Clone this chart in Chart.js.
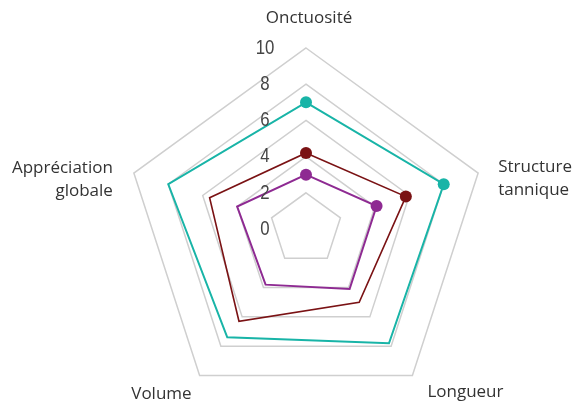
<!DOCTYPE html>
<html>
<head>
<meta charset="utf-8">
<script src="https://cdn.jsdelivr.net/npm/chart.js@4"></script>
<style>
  html, body { margin: 0; padding: 0; background: #fff; }
  #wrap { width: 576px; height: 410px; }
</style>
</head>
<body>
<div id="wrap"><canvas id="radarChart"></canvas></div>
<script>
// ============================== DATA ==============================
const categories = ["Onctuosité", ["Structure", "tannique"], "Longueur", "Volume", ["Appréciation", "globale"]];
const tickValues = [0, 2, 4, 6, 8, 10];
const serieTeal = [7.0, 8.0, 7.8, 7.4, 8.0];
const serieRed = [4.2, 5.8, 5.0, 6.3, 5.6];
const seriePurple = [3.0, 4.1, 4.1, 3.8, 4.0];

// points only drawn on the first two axes
const markerRadius = [6, 6, 0, 0, 0];

// ============================== LABEL PLUGIN ==============================
// position of each axis label relative to the outer vertex of the grid
const labelLayout = [
    { dx: 3, dy: -25, align: "center" },
    { dx: 20, dy: -1, align: "left" },
    { dx: 15, dy: 22, align: "left" },
    { dx: -8, dy: 24, align: "right" },
    { dx: -21, dy: 0, align: "right" }
];

const radarText = {
    id: "radarText",
    afterDraw(chart) {
        const scale = chart.scales.r;
        const ctx = chart.ctx;

        // tick labels, to the left of the vertical axis (narrowed digits)
        const squeeze = 0.8;
        ctx.save();
        ctx.font = "21px 'Liberation Sans', Arial, sans-serif";
        ctx.fillStyle = "#454545";
        ctx.textAlign = "center";
        ctx.textBaseline = "middle";
        ctx.scale(squeeze, 1);
        tickValues.forEach(v => {
            const y = scale.yCenter - scale.getDistanceFromCenterForValue(v);
            ctx.fillText(String(v), (scale.xCenter - 41) / squeeze, y);
        });
        ctx.restore();

        // axis labels
        ctx.save();
        ctx.font = "17px 'Open Sans', sans-serif";
        ctx.fillStyle = "#333";
        ctx.textBaseline = "alphabetic";
        categories.forEach((label, i) => {
            const p = scale.getPointPosition(i, scale.drawingArea);
            const lay = labelLayout[i];
            const lines = Array.isArray(label) ? label : [label];
            ctx.textAlign = lay.align;
            lines.forEach((line, k) => {
                ctx.fillText(line, p.x + lay.dx, p.y + lay.dy + k * 23);
            });
        });
        ctx.restore();
    }
};

// ============================== CHART ==============================
function makeDataset(data, color, width) {
    return {
        data: data,
        borderColor: color,
        backgroundColor: color,
        borderWidth: width,
        fill: false,
        pointRadius: markerRadius,
        pointHoverRadius: markerRadius,
        pointBorderWidth: 0,
        pointBackgroundColor: color
    };
}

window.addEventListener("DOMContentLoaded", () => {
    const ctx = document.getElementById("radarChart").getContext("2d");
    new Chart(ctx, {
        type: "radar",
        data: {
            labels: categories,
            datasets: [
                makeDataset(seriePurple, "#8e2a92", 2),
                makeDataset(serieRed, "#7a1214", 1.6),
                makeDataset(serieTeal, "#18b4a7", 2)
            ]
        },
        options: {
            responsive: true,
            maintainAspectRatio: false,
            animation: false,
            layout: { padding: { left: 124, right: 88, top: 48, bottom: -2 } },
            plugins: {
                legend: { display: false },
                tooltip: { enabled: false }
            },
            elements: { line: { tension: 0 } },
            scales: {
                r: {
                    min: 0,
                    max: 10,
                    ticks: { display: false, stepSize: 2 },
                    grid: { color: "#cfcfcf", lineWidth: 1.5 },
                    angleLines: { display: false },
                    pointLabels: { display: false }
                }
            }
        },
        plugins: [radarText]
    });
});
</script>
</body>
</html>
